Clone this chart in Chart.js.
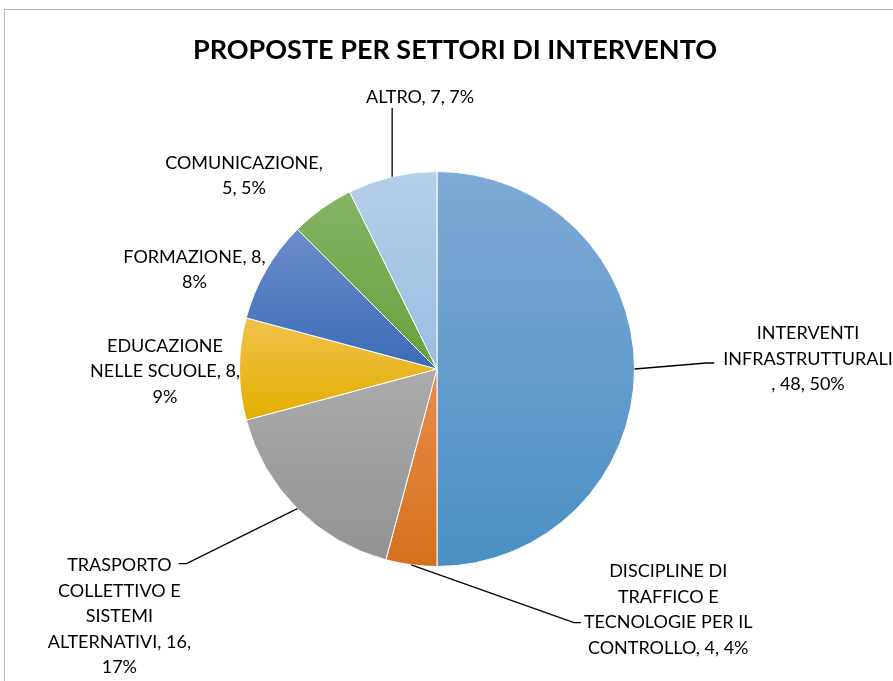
<!DOCTYPE html>
<html lang="it">
<head>
<meta charset="utf-8">
<title>Proposte per settori di intervento</title>
<script src="https://cdn.jsdelivr.net/npm/chart.js@4.4.1/dist/chart.umd.min.js"></script>
<style>
    html, body { margin: 0; padding: 0; background: #fff; overflow: hidden; }
    #wrap { position: relative; width: 893px; height: 681px; }
    #frame {
        position: absolute; left: 4px; top: 9px;
        width: 1000px; height: 1000px;
        border: 1px solid #b8b8b8;
    }
    #pieChart { position: absolute; left: 0; top: 0; }
</style>
</head>
<body>
<div id="wrap">
    <div id="frame"></div>
    <canvas id="pieChart" width="893" height="681"></canvas>
</div>
<script>
// data
const chartTitle = "PROPOSTE PER SETTORI DI INTERVENTO";
const categories = [
    "INTERVENTI INFRASTRUTTURALI",
    "DISCIPLINE DI TRAFFICO E TECNOLOGIE PER IL CONTROLLO",
    "TRASPORTO COLLETTIVO E SISTEMI ALTERNATIVI",
    "EDUCAZIONE NELLE SCUOLE",
    "FORMAZIONE",
    "COMUNICAZIONE",
    "ALTRO"
];
const values = [48, 4, 16, 8, 8, 5, 7];
const percentLabels = ["50%", "4%", "17%", "9%", "8%", "5%", "7%"];

// label text, wrapped the way the original shows it
const labelLines = [
    ["INTERVENTI", "INFRASTRUTTURALI", `, ${values[0]}, ${percentLabels[0]}`],
    ["DISCIPLINE DI", "TRAFFICO E", "TECNOLOGIE PER IL", `CONTROLLO, ${values[1]}, ${percentLabels[1]}`],
    ["TRASPORTO", "COLLETTIVO E", "SISTEMI", `ALTERNATIVI, ${values[2]},`, percentLabels[2]],
    ["EDUCAZIONE", `NELLE SCUOLE, ${values[3]},`, percentLabels[3]],
    [`FORMAZIONE, ${values[4]},`, percentLabels[4]],
    ["COMUNICAZIONE,", `${values[5]}, ${percentLabels[5]}`],
    [`ALTRO, ${values[6]}, ${percentLabels[6]}`]
];

// styles / layout
const sliceTop    = ["#7eaad6", "#e98d4e", "#ababab", "#f0c24c", "#6c8dcb", "#86b466", "#b6cfea"];
const sliceBottom = ["#4a8fc3", "#d4711c", "#939393", "#e4ae00", "#3a6cb7", "#68a13c", "#9cbde1"];
// label block centre, relative to the mid point of the slice edge
const labelOffsets = [[173.5, -10.5], [257, 44], [-178, 107], [-74.5, 2], [-71.5, -1], [-78, -33.5], [28, -80]];
// leader lines: side of the label, line it attaches to, gap to text, short horizontal tail
const leaders = [
    { side: "left", line: 1, gap: 9, tail: 8, dy: 4.5 },
    { side: "left", line: 2, gap: 3, tail: 7, dy: 1 },
    { side: "right", line: 0, gap: 7, tail: 8, dy: -1 },
    null, null, null,
    { side: "bottom", gap: 5 }
];
const labelFont = "18px Lato";
const labelLineHeight = 25.5;
const capRatio = 0.7165;

function arcYExtent(arc) {
    const r = arc.outerRadius;
    const a0 = arc.startAngle, a1 = arc.endAngle;
    const ys = [arc.y, arc.y + r * Math.sin(a0), arc.y + r * Math.sin(a1)];
    [-Math.PI / 2, Math.PI / 2, 3 * Math.PI / 2].forEach(a => {
        if (a >= a0 && a <= a1) ys.push(arc.y + r * Math.sin(a));
    });
    return [Math.min(...ys), Math.max(...ys)];
}

function sliceFill(ctx) {
    const i = ctx.dataIndex;
    const arc = ctx.element;
    if (!arc || !isFinite(arc.x) || !arc.outerRadius) return sliceTop[i];
    const [y0, y1] = arcYExtent(arc);
    const g = ctx.chart.ctx.createLinearGradient(0, y0, 0, y1);
    g.addColorStop(0, sliceTop[i]);
    g.addColorStop(1, sliceBottom[i]);
    return g;
}

const labelPlugin = {
    id: "pieLabels",
    afterDatasetsDraw(chart) {
        const ctx = chart.ctx;
        const arcs = chart.getDatasetMeta(0).data;
        ctx.save();

        // title
        ctx.font = "bold 27px Lato";
        ctx.fillStyle = "#000";
        ctx.textAlign = "center";
        ctx.textBaseline = "alphabetic";
        ctx.fillText(chartTitle, 455, 59);

        ctx.font = labelFont;
        const fontSize = parseFloat(labelFont);
        arcs.forEach((arc, i) => {
            const mid = (arc.startAngle + arc.endAngle) / 2;
            const ex = arc.x + arc.outerRadius * Math.cos(mid);
            const ey = arc.y + arc.outerRadius * Math.sin(mid);
            const lines = labelLines[i];
            const cx = ex + labelOffsets[i][0];
            const cy = ey + labelOffsets[i][1];
            const top = cy - lines.length * labelLineHeight / 2;
            const lineY = k => top + labelLineHeight * (k + 0.5);

            ctx.fillStyle = "#000";
            ctx.textAlign = "center";
            lines.forEach((t, k) => {
                ctx.fillText(t, cx, lineY(k) + fontSize * capRatio / 2);
            });

            const ld = leaders[i];
            if (!ld) return;
            ctx.strokeStyle = "#000";
            ctx.lineWidth = 1.3;
            ctx.beginPath();
            ctx.moveTo(ex, ey);
            if (ld.side === "bottom") {
                ctx.lineTo(ex, lineY(lines.length - 1) + fontSize * capRatio / 2 + ld.gap);
            } else {
                const w = ctx.measureText(lines[ld.line]).width;
                const y = lineY(ld.line) + ld.dy;
                if (ld.side === "left") {
                    const x = cx - w / 2 - ld.gap;
                    ctx.lineTo(x - ld.tail, y);
                    ctx.lineTo(x, y);
                } else {
                    const x = cx + w / 2 + ld.gap;
                    ctx.lineTo(x + ld.tail, y);
                    ctx.lineTo(x, y);
                }
            }
            ctx.stroke();
        });
        ctx.restore();
    }
};

const chart = new Chart(document.getElementById("pieChart").getContext("2d"), {
    type: "pie",
    data: {
        labels: categories,
        datasets: [{
            data: values,
            backgroundColor: sliceFill,
            borderColor: "#ffffff",
            borderWidth: 1
        }]
    },
    options: {
        responsive: false,
        animation: false,
        layout: { padding: { left: 239, right: 258, top: 171, bottom: 114 } },
        plugins: {
            legend: { display: false },
            tooltip: { enabled: false },
            title: { display: false }
        }
    },
    plugins: [labelPlugin]
});
// second pass so the gradients see the final arc geometry
chart.update("none");
</script>
</body>
</html>
